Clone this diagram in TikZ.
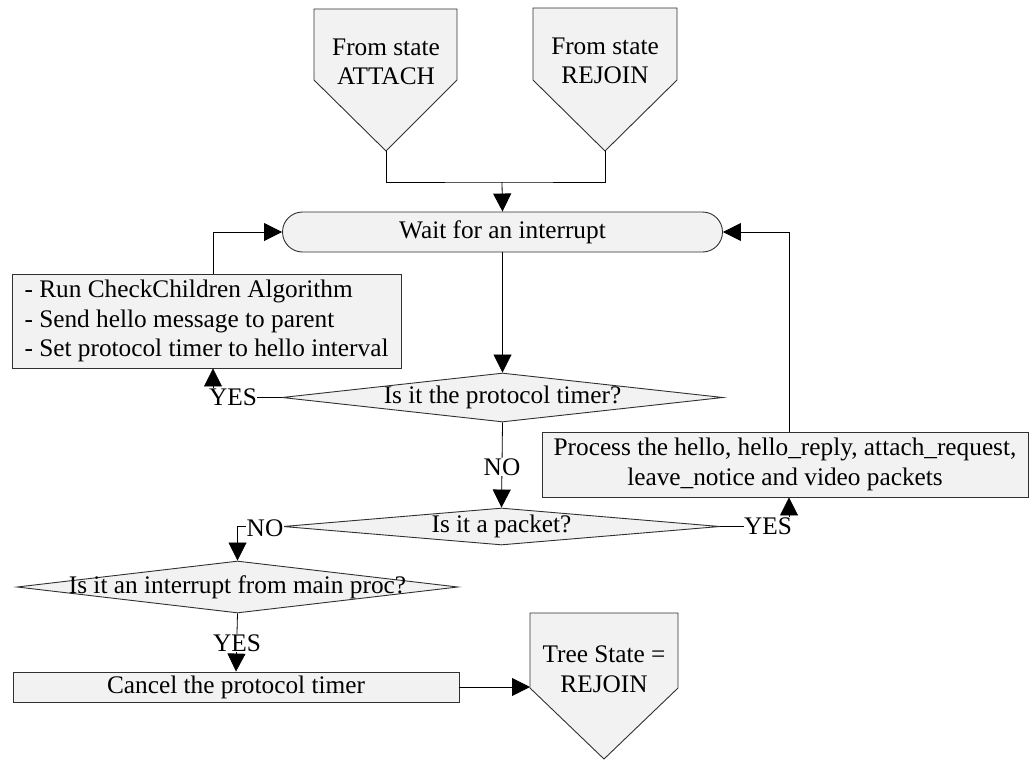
\documentclass[tikz,border=0pt]{standalone}
\usepackage{fontspec}
\setmainfont{Liberation Serif}
\usetikzlibrary{arrows.meta,shapes.geometric,shapes.misc}
\definecolor{boxfill}{HTML}{F2F2F2}
\definecolor{edge}{HTML}{303030}
\begin{document}
\begin{tikzpicture}[x=1pt,y=-1pt,
  every node/.style={font=\fontsize{25.3}{29.5}\selectfont},
  shapebox/.style={draw=edge,fill=boxfill,line width=0.9pt},
  procbox/.style={shapebox,rectangle,inner sep=3pt},
  decision/.style={shapebox,diamond,inner sep=0pt},
  terminal/.style={shapebox,rounded rectangle,inner sep=0pt},
  arr/.style={draw=black,line width=0.8pt,-{Triangle[length=18pt,width=18pt]}},
  link/.style={draw=black,line width=0.8pt},
  lbl/.style={fill=white,inner sep=0.5pt}]
\useasboundingbox (0,0) rectangle (1032,760);

% off-page entry connectors
\draw[shapebox] (314,9) -- (457,9) -- (457,80) -- (386,151) -- (314,80) -- cycle;
\coordinate (tA) at (386,151);
\node[align=center] (fromA) at (386,62) {From state\\ATTACH};
\draw[shapebox] (533,8) -- (677,8) -- (677,80) -- (605,151) -- (533,80) -- cycle;
\coordinate (tB) at (605,151);
\node[align=center] (fromB) at (605,61) {From state\\REJOIN};
\coordinate (jn) at (502,182);

% main loop
\node[terminal,minimum width=440,minimum height=40] (wait) at (502.5,232) {Wait for an interrupt};
\node[procbox,align=left,minimum width=389,minimum height=94] (run) at (206.5,321)
  {- Run CheckChildren Algorithm\\- Send hello message to parent\\- Set protocol timer to hello interval};
\node[decision,minimum width=441,minimum height=49] (d1) at (502.5,397.5) {};
\node (d1t) at (d1) {Is it the protocol timer?};
\node[procbox,align=center,minimum width=486,minimum height=65] (proc) at (785,464.5)
  {Process the hello, hello\_reply, attach\_request,\\leave\_notice and video packets};
\node[decision,minimum width=437,minimum height=37] (d2) at (501.5,526.5) {};
\node (d2t) at (d2) {Is it a packet?};
\node[decision,minimum width=441,minimum height=52] (d3) at (237.5,587) {};
\node (d3t) at (d3) {Is it an interrupt from main proc?};
\node[procbox,minimum width=446,minimum height=30] (cancel) at (236,687) {Cancel the protocol timer};

% off-page exit connector
\draw[shapebox] (530,613) -- (678,613) -- (678,688) -- (604,759) -- (530,688) -- cycle;
\coordinate (tL) at (530,687);
\node[align=center] (tree) at (604,669) {Tree State =\\REJOIN};

% connectors
\draw[link] (tA) |- (jn) -| (tB);
\draw[arr] (jn) -- (wait.north);
\draw[arr] ([xshift=6.5pt]run.north) |- (wait.west);
\draw[arr] (wait.south) -- (d1.north);
\draw[arr] (d1.west) -| ([xshift=6.5pt]run.south);
\node[lbl] (yes1) at (233,397) {YES};
\draw[arr] (d1.south) -- (d2.north);
\node[lbl] (no1) at (502,467) {NO};
\draw[arr] (d2.east) -| ([xshift=4pt]proc.south);
\node[lbl] (yes2) at (768,526) {YES};
\draw[arr] ([xshift=4pt]proc.north) |- (wait.east);
\draw[arr] (d2.west) -| (d3.north);
\node[lbl] (no2) at (265,528) {NO};
\draw[arr] (d3.south) -- (cancel.north);
\node[lbl] (yes3) at (237,643) {YES};
\draw[arr] (cancel.east) -- (tL);
\end{tikzpicture}
\end{document}
